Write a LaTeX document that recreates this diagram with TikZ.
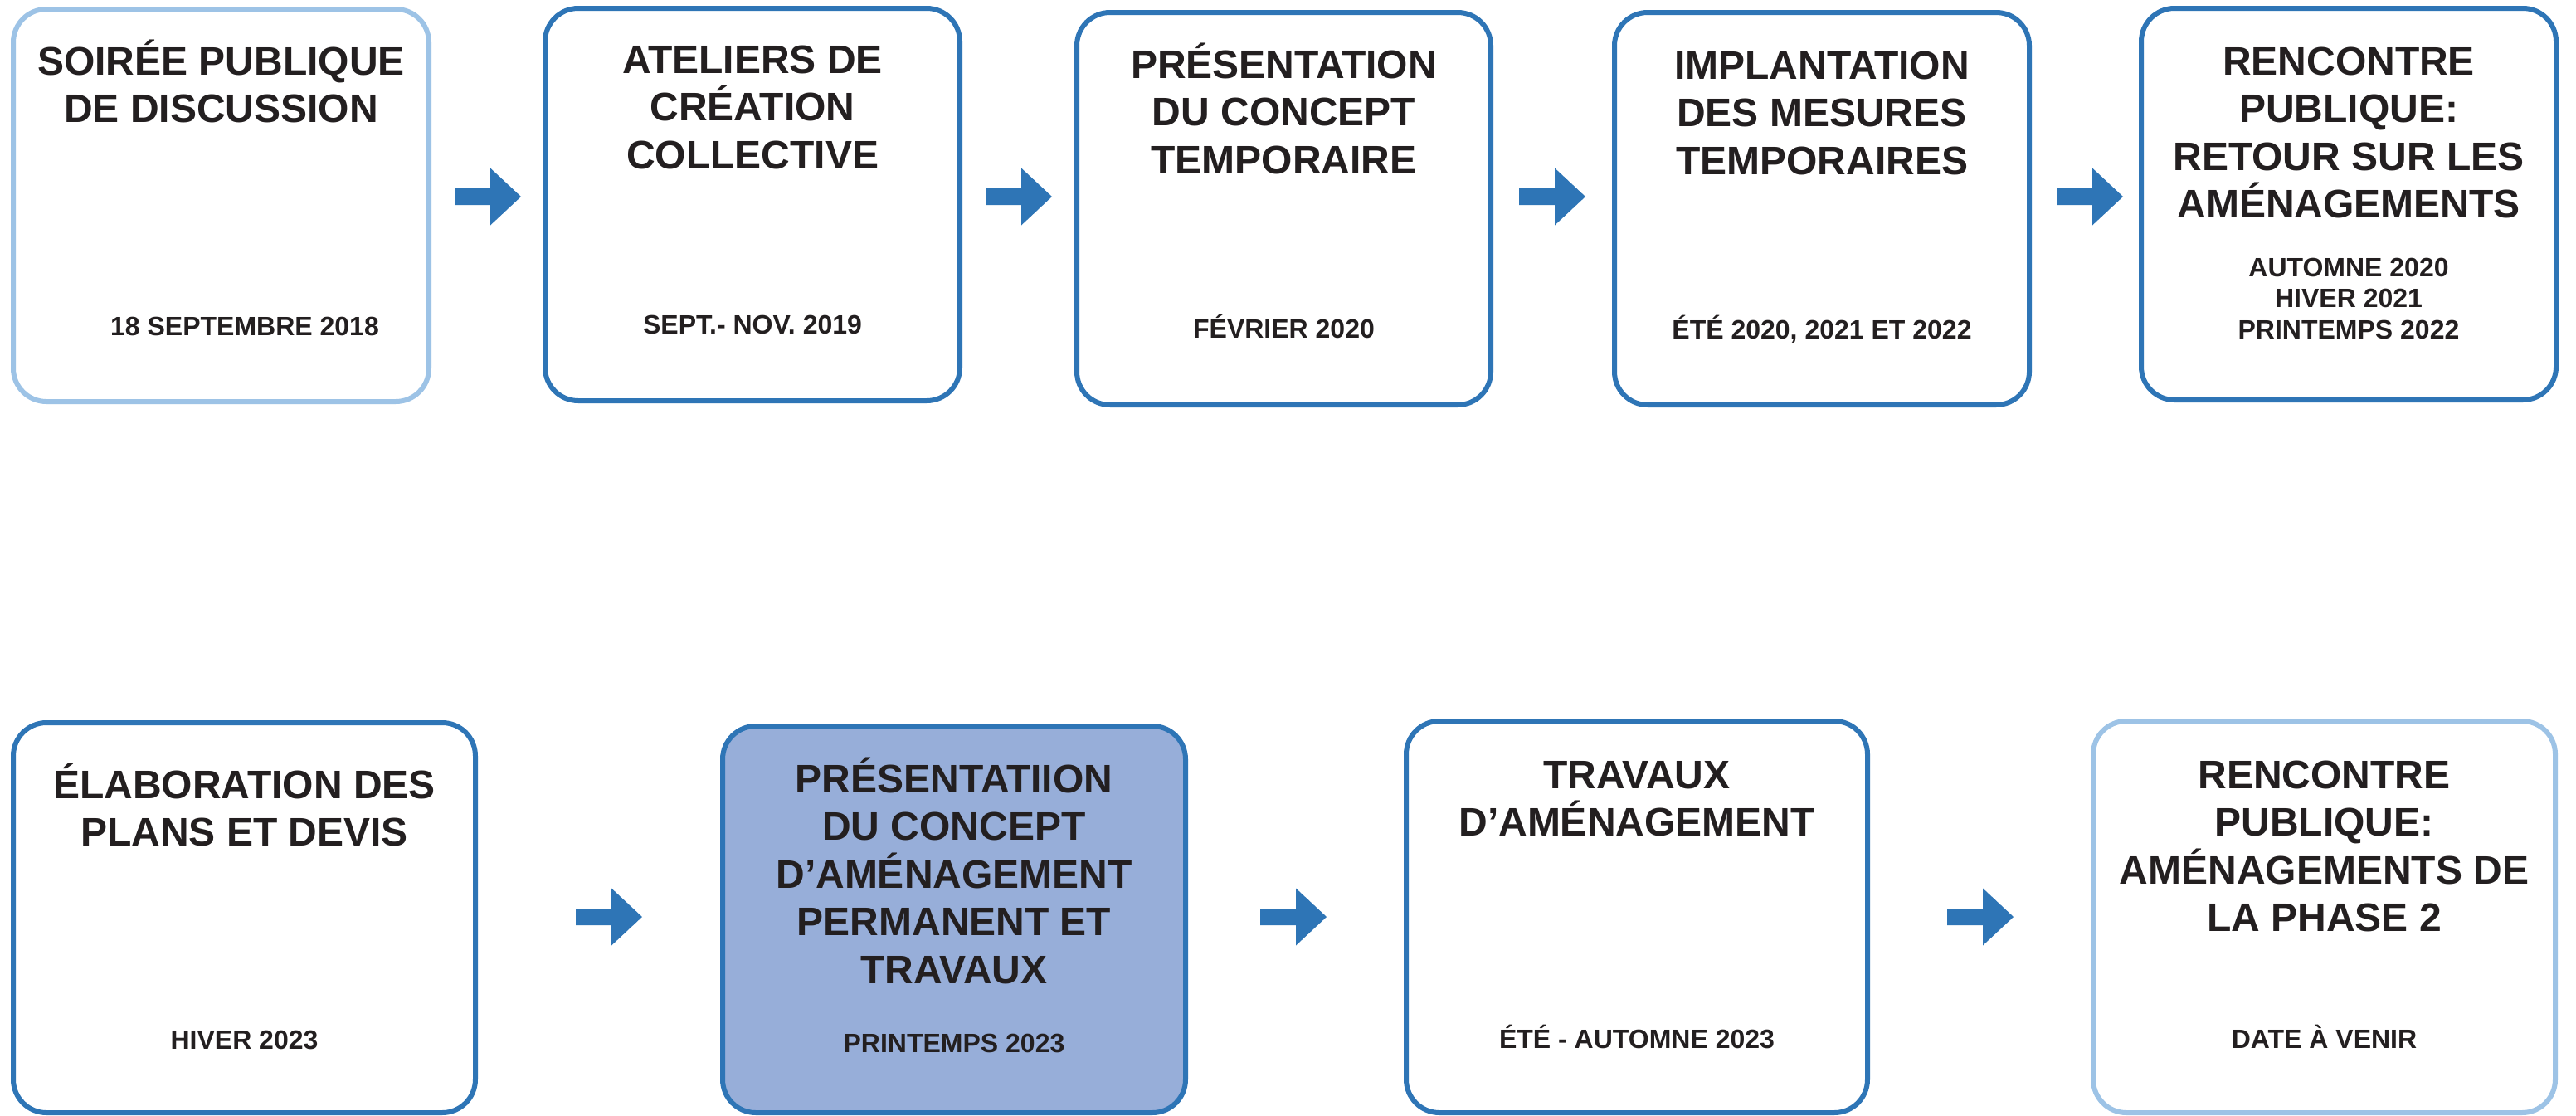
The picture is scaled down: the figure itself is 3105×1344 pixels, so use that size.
\documentclass[tikz,border=0pt]{standalone}
\usepackage{fontspec}
\setmainfont{Liberation Sans}
\definecolor{dblue}{RGB}{46,117,182}
\definecolor{lblue}{RGB}{157,195,230}
\definecolor{pfill}{RGB}{151,174,217}
\definecolor{ink}{RGB}{35,31,32}
\newcommand{\blockarrow}[1]{\fill[dblue] (#1) ++(0,-10) -- ++(43,0) -- ++(0,-24.5) -- ++(37,34.5) -- ++(-37,34.5) -- ++(0,-24.5) -- ++(-43,0) -- cycle;}
\begin{document}
\begin{tikzpicture}[x=1pt,y=-1pt,
  box/.style={draw=dblue, fill=white, line width=6pt, rounded corners=40pt, inner sep=0pt},
  lightbox/.style={box, draw=lblue},
  hibox/.style={box, fill=pfill},
  ttl/.style={font=\fontsize{48}{57.5}\selectfont\bfseries, text=ink, align=center, anchor=base, inner sep=0pt},
  dte/.style={font=\fontsize{32}{37.5}\selectfont\bfseries, text=ink, align=center, anchor=base, inner sep=0pt}]
\fill[white] (0,0) rectangle (3105,1344);
\path[use as bounding box] (0,0) rectangle (3105,1344);

% top row boxes
\node[lightbox, minimum width=501pt, minimum height=473pt] (b1) at (266.5,247.5) {};
\node[box, minimum width=500pt, minimum height=473pt] (b2) at (907,246.5) {};
\node[box, minimum width=499pt, minimum height=473pt] (b3) at (1547.5,251.5) {};
\node[box, minimum width=500pt, minimum height=473pt] (b4) at (2196,251.5) {};
\node[box, minimum width=500pt, minimum height=472pt] (b5) at (2831,246) {};

% bottom row boxes
\node[box, minimum width=557pt, minimum height=470pt] (b6) at (294.5,1106) {};
\node[hibox, minimum width=558pt, minimum height=466pt] (b7) at (1150,1108) {};
\node[box, minimum width=556pt, minimum height=472pt] (b8) at (1973,1105) {};
\node[lightbox, minimum width=557pt, minimum height=472pt] (b9) at (2801.5,1105) {};

% titles (anchored at the baseline of their last line)
\node[ttl] (t1) at (266.5,147.5) {SOIRÉE PUBLIQUE\\DE DISCUSSION};
\node[ttl] (t2) at (907,203) {ATELIERS DE\\CRÉATION\\COLLECTIVE};
\node[ttl] (t3) at (1547.5,209) {PRÉSENTATION\\DU CONCEPT\\TEMPORAIRE};
\node[ttl] (t4) at (2196,210) {IMPLANTATION\\DES MESURES\\TEMPORAIRES};
\node[ttl] (t5) at (2831,262.5) {RENCONTRE\\PUBLIQUE:\\RETOUR SUR LES\\AMÉNAGEMENTS};
\node[ttl] (t6) at (294.5,1019.5) {ÉLABORATION DES\\PLANS ET DEVIS};
\node[ttl] (t7) at (1150,1185) {PRÉSENTATIION\\DU CONCEPT\\D’AMÉNAGEMENT\\PERMANENT ET\\TRAVAUX};
\node[ttl] (t8) at (1973,1007.5) {TRAVAUX\\D’AMÉNAGEMENT};
\node[ttl] (t9) at (2801.5,1122.5) {RENCONTRE\\PUBLIQUE:\\AMÉNAGEMENTS DE\\LA PHASE 2};

% dates
\node[dte] (d1) at (295,404) {18 SEPTEMBRE 2018};
\node[dte] (d2) at (907,402) {SEPT.- NOV. 2019};
\node[dte] (d3) at (1547.5,407) {FÉVRIER 2020};
\node[dte] (d4) at (2196,408) {ÉTÉ 2020, 2021 ET 2022};
\node[dte] (d5) at (2831,408) {AUTOMNE 2020\\HIVER 2021\\PRINTEMPS 2022};
\node[dte] (d6) at (294.5,1264) {HIVER 2023};
\node[dte] (d7) at (1150,1268) {PRINTEMPS 2023};
\node[dte] (d8) at (1973,1263) {ÉTÉ - AUTOMNE 2023};
\node[dte] (d9) at (2801.5,1263) {DATE À VENIR};

% arrows
\coordinate (a1) at (548,237);
\coordinate (a2) at (1188,237);
\coordinate (a3) at (1831,237);
\coordinate (a4) at (2479,237);
\coordinate (a5) at (694,1105);
\coordinate (a6) at (1519,1105);
\coordinate (a7) at (2347,1105);
\blockarrow{a1}
\blockarrow{a2}
\blockarrow{a3}
\blockarrow{a4}
\blockarrow{a5}
\blockarrow{a6}
\blockarrow{a7}
\end{tikzpicture}
\end{document}
